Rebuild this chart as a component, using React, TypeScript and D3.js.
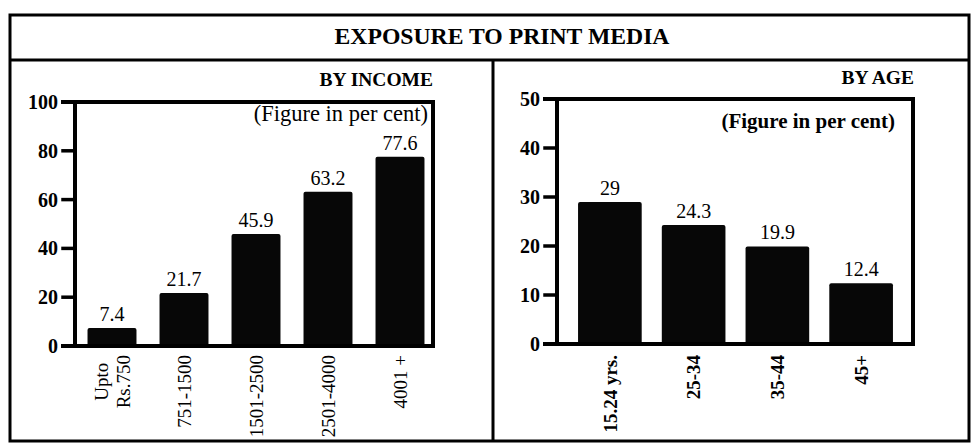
import React, { useEffect, useRef } from "react";
import * as d3 from "d3";

const title = "EXPOSURE TO PRINT MEDIA";
const incomeTitle = "BY INCOME";
const ageTitle = "BY AGE";
const note = "(Figure in per cent)";

const incomeCategories = ["Upto\nRs.750", "751-1500", "1501-2500", "2501-4000", "4001 +"];
const incomeValues = [7.4, 21.7, 45.9, 63.2, 77.6];
const incomeTicks = [0, 20, 40, 60, 80, 100];

const ageCategories = ["15.24 yrs.", "25-34", "35-44", "45+"];
const ageValues = [29, 24.3, 19.9, 12.4];
const ageTicks = [0, 10, 20, 30, 40, 50];

const W = 972;
const H = 443;
const FONT = "'Liberation Serif', 'Times New Roman', serif";

type PanelCfg = {
  cats: string[];
  vals: number[];
  ticks: number[];
  max: number;
  axisX: number;
  rightX: number;
  topY: number;
  zeroY: number;
  bandRange: [number, number];
  padInner: number;
  padOuter: number;
  heading: string;
  headingX: number;
  headingY: number;
  noteX: number;
  noteY: number;
  noteSize: number;
  noteBold: boolean;
  catBold: boolean;
  catTop: number;
};

function drawPanel(svg: d3.Selection<SVGSVGElement, unknown, null, undefined>, c: PanelCfg) {
  const g = svg.append("g");
  const y = d3.scaleLinear().domain([0, c.max]).range([c.zeroY, c.topY]);
  const x = d3.scaleBand<string>().domain(c.cats).range(c.bandRange).paddingInner(c.padInner).paddingOuter(c.padOuter);

  // bars
  g.selectAll("rect.bar")
    .data(c.vals)
    .enter()
    .append("rect")
    .attr("class", "bar")
    .attr("x", (_d, i) => x(c.cats[i]) as number)
    .attr("y", (d) => y(d))
    .attr("width", x.bandwidth())
    .attr("height", (d) => y(0) - y(d))
    .attr("rx", 2)
    .attr("fill", "#070707");

  // value labels
  g.selectAll("text.val")
    .data(c.vals)
    .enter()
    .append("text")
    .attr("class", "val")
    .attr("x", (_d, i) => (x(c.cats[i]) as number) + x.bandwidth() / 2)
    .attr("y", (d) => y(d) - 7)
    .attr("text-anchor", "middle")
    .attr("font-family", FONT)
    .attr("font-size", 20)
    .attr("fill", "#000")
    .text((d) => String(d));

  // frame lines
  const tickStart = c.axisX - 12;
  const line = (x1: number, y1: number, x2: number, y2: number, w: number) =>
    g.append("line").attr("x1", x1).attr("y1", y1).attr("x2", x2).attr("y2", y2).attr("stroke", "#000").attr("stroke-width", w).attr("stroke-linecap", "square");
  line(tickStart, y(c.max), c.rightX, y(c.max), 4);
  line(c.axisX, y(c.max), c.axisX, y(0), 4);
  line(c.rightX, y(c.max), c.rightX, y(0), 4);
  line(tickStart, y(0), c.rightX, y(0), 4);

  // ticks
  c.ticks.forEach((t) => {
    line(tickStart, y(t), c.axisX, y(t), 3.5);
    g.append("text")
      .attr("x", c.axisX - 17)
      .attr("y", y(t))
      .attr("dy", "0.35em")
      .attr("text-anchor", "end")
      .attr("font-family", FONT)
      .attr("font-weight", "bold")
      .attr("font-size", 20)
      .text(String(t));
  });

  // category labels (rotated)
  c.cats.forEach((cat) => {
    const lines = cat.split("\n");
    const cx = (x(cat) as number) + x.bandwidth() / 2;
    const lh = 22;
    const tg = g.append("g");
    const texts = lines.map((ln) =>
      tg
        .append("text")
        .attr("dy", "0.35em")
        .attr("font-family", FONT)
        .attr("font-weight", c.catBold ? "bold" : "normal")
        .attr("font-size", 19)
        .text(ln)
    );
    const lens = texts.map((t) => (t.node() as SVGTextElement).getComputedTextLength());
    const maxLen = Math.max(...lens);
    texts.forEach((t, i) => {
      const off = (i - (lines.length - 1) / 2) * lh;
      // lines centred relative to the longest one, whose top end sits at catTop
      t.attr("text-anchor", "middle").attr("transform", `translate(${cx + off},${c.catTop + maxLen / 2}) rotate(-90)`);
    });
  });

  // headings
  g.append("text")
    .attr("x", c.headingX)
    .attr("y", c.headingY)
    .attr("text-anchor", "end")
    .attr("font-family", FONT)
    .attr("font-weight", "bold")
    .attr("font-size", 19.5)
    .text(c.heading);
  g.append("text")
    .attr("x", c.noteX)
    .attr("y", c.noteY)
    .attr("text-anchor", "end")
    .attr("font-family", FONT)
    .attr("font-weight", c.noteBold ? "bold" : "normal")
    .attr("font-size", c.noteSize)
    .text(note);
}

export default function App() {
  const ref = useRef<SVGSVGElement | null>(null);
  useEffect(() => {
    if (!ref.current) return;
    const svg = d3.select(ref.current);
    svg.selectAll("*").remove();

    svg.append("rect").attr("x", 0).attr("y", 0).attr("width", W).attr("height", H).attr("fill", "#fff");

    // outer frame
    svg.append("rect").attr("x", 10).attr("y", 15).attr("width", 959).attr("height", 426).attr("fill", "none").attr("stroke", "#000").attr("stroke-width", 3);
    svg.append("line").attr("x1", 10).attr("y1", 60).attr("x2", 969).attr("y2", 60).attr("stroke", "#000").attr("stroke-width", 3);
    svg.append("line").attr("x1", 493).attr("y1", 60).attr("x2", 493).attr("y2", 441).attr("stroke", "#000").attr("stroke-width", 3);

    svg.append("text")
      .attr("x", 502)
      .attr("y", 44)
      .attr("text-anchor", "middle")
      .attr("font-family", FONT)
      .attr("font-weight", "bold")
      .attr("font-size", 23.7)
      .text(title);

    drawPanel(svg, {
      cats: incomeCategories,
      vals: incomeValues,
      ticks: incomeTicks,
      max: 100,
      axisX: 75,
      rightX: 433,
      topY: 102,
      zeroY: 346,
      bandRange: [76, 436],
      padInner: 0.32,
      padOuter: 0.16,
      heading: incomeTitle,
      headingX: 433,
      headingY: 86,
      noteX: 428,
      noteY: 121,
      noteSize: 22.5,
      noteBold: false,
      catBold: false,
      catTop: 355,
    });

    drawPanel(svg, {
      cats: ageCategories,
      vals: ageValues,
      ticks: ageTicks,
      max: 50,
      axisX: 557,
      rightX: 913,
      topY: 99,
      zeroY: 344,
      bandRange: [568, 903],
      padInner: 0.24,
      padOuter: 0.12,
      heading: ageTitle,
      headingX: 914,
      headingY: 84,
      noteX: 895,
      noteY: 128,
      noteSize: 21,
      noteBold: true,
      catBold: true,
      catTop: 355,
    });
  }, []);

  return (
    <svg ref={ref} width={W} height={H} style={{ display: "block", position: "absolute", left: 0, top: 0 }} />
  );
}
